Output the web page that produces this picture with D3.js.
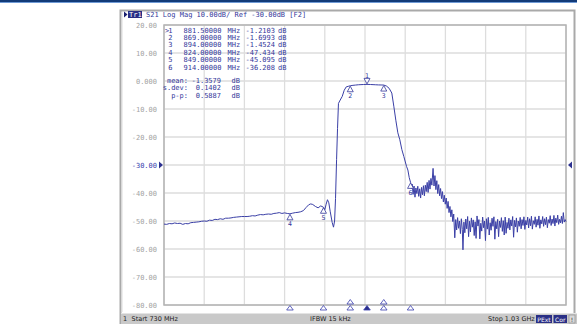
<!DOCTYPE html>
<html><head><meta charset="utf-8">
<script src="https://cdn.jsdelivr.net/npm/d3@7"></script>
<style>body{margin:0;background:#fff}svg{display:block}</style>
</head><body><svg id="c" width="577" height="324"></svg>
<script>
// ---- data ----
const freqMHz = [730,732,734,736,738,740,742,744,746,748,750,752,754,756,758,760,762,764,766,768,770,772,774,776,778,780,782,784,786,788,790,792,794,796,798,800,802,804,806,808,810,812,814,816,818,820,822,824,826,828,830,832,834,836,838,839.5,841,843,845,847,849,850,851,852,853,854,855.5,856.5,857.3,858,858.8,859.5,860.2,861.5,863,864.5,866,867.5,869,871,873,875,877,879,881.5,884,886,888,890,892,894,896,898,900,901.5,903,904.5,906,907.5,909,911,912,913,914,
914.5,915.2,915.9,916.6,917.3,918,918.7,919.4,920.1,920.8,921.5,922.2,922.9,923.6,924.3,925,925.7,926.4,927.1,927.8,928.5,929.2,929.9,930.8,931.5,932.2,932.9,933.6,934.3,935,935.7,936.4,937.1,937.8,938.5,939.2,939.9,940.6,941.3,942,942.7,943.4,944.1,944.8,945.5,946.2,
947,947.7,948.4,949.1,949.8,950.5,951.2,951.9,952.6,953.1,953.8,954.5,955.2,955.9,956.6,957.3,958,958.7,959.4,960.1,960.8,961.5,962.2,962.9,963.6,964.3,965,965.7,966.4,967.1,967.8,968.5,969.2,969.9,970.6,971.3,972,972.7,973.4,974.1,974.8,975.5,976.2,976.9,977.6,978.3,979,979.7,980.4,981.1,981.8,982.5,983.2,983.9,984.6,985.3,986,986.7,987.4,988.1,988.8,989.5,990.2,990.9,991.6,992.3,993,993.7,994.4,995.1,995.8,996.5,997.2,997.9,998.6,999.3,1000,1000.7,1001.4,1002.1,1002.8,1003.5,1004.2,1004.9,1005.6,1006.3,1007,1007.7,1008.4,1009.1,1009.8,1010.5,1011.2,1011.9,1012.6,1013.3,1014,1014.7,1015.4,1016.1,1016.8,1017.5,1018.2,1018.9,1019.6,1020.3,1021,1021.7,1022.4,1023.1,1023.8,1024.5,1025.2,1025.9,1026.6,1027.3,1028,1028.7,1029.4,1030];
const s21dB = [-51.1,-51.2,-50.9,-51.0,-50.7,-50.9,-50.8,-51.2,-50.9,-51.0,-50.6,-50.5,-50.4,-50.3,-50.1,-50.0,-50.1,-49.7,-49.8,-49.4,-49.5,-49.2,-49.4,-49.0,-49.0,-48.9,-48.7,-48.6,-48.5,-48.4,-48.4,-48.4,-48.3,-48.1,-48.2,-47.9,-47.7,-47.8,-47.6,-47.5,-47.6,-47.3,-47.2,-47.0,-47.3,-47.1,-47.3,-47.43,-47.2,-47.0,-46.9,-46.7,-46.3,-45.2,-44.2,-43.9,-44.1,-44.8,-45.3,-44.6,-45.1,-46.0,-44.0,-42.4,-43.5,-46.5,-50.5,-52.2,-50.0,-42.0,-28.0,-17.0,-8.0,-6.8,-5.5,-3.3,-2.1,-1.9,-1.70,-1.55,-1.45,-1.35,-1.30,-1.25,-1.21,-1.25,-1.30,-1.35,-1.40,-1.42,-1.45,-1.8,-2.6,-4.3,-9.0,-14.0,-18.5,-21.0,-24.5,-27.0,-30.5,-31.8,-34.5,-36.2,
-38.5,-36.8,-40.5,-37.5,-41.5,-38.2,-40.2,-37.6,-41.2,-38.5,-41.8,-38.0,-40.6,-37.4,-41.0,-37.2,-39.5,-36.2,-39.8,-35.5,-38.6,-34.8,-37.2,-31.2,-37.5,-33.8,-38.8,-35.6,-40.2,-37.0,-41.0,-38.4,-42.0,-39.5,-43.2,-40.8,-44.0,-41.8,-45.5,-43.0,-47.0,-44.8,-48.5,-46.0,-50.2,-47.5,
-56.0,-49.5,-53.2,-48.8,-52.6,-50.0,-54.5,-49.2,-53.0,-60.3,-50.4,-54.2,-49.3,-52.8,-48.4,-55.6,-50.1,-53.9,-48.9,-52.2,-49.6,-55.2,-50.3,-56.2,-48.2,-51.8,-49.5,-56.4,-50.8,-53.6,-48.6,-52.4,-50.0,-57.0,-49.2,-52.9,-48.7,-55.0,-50.6,-53.3,-49.0,-51.9,-48.5,-56.5,-50.2,-52.8,-49.4,-55.6,-50.0,-52.3,-48.8,-53.7,-49.9,-55.0,-48.6,-54.4,-50.5,-52.6,-49.0,-53.2,-49.6,-51.8,-48.4,-55.8,-49.8,-52.1,-48.9,-54.0,-50.0,-51.9,-48.7,-52.8,-49.5,-51.6,-48.5,-53.0,-49.8,-51.4,-48.6,-52.5,-49.2,-51.7,-48.3,-52.9,-49.9,-51.2,-48.5,-52.2,-49.4,-51.5,-48.2,-52.6,-49.6,-51.0,-48.4,-51.9,-49.2,-51.3,-48.6,-52.4,-49.5,-50.8,-48.1,-51.6,-49.3,-50.9,-48.0,-51.8,-49.0,-50.6,-47.9,-51.2,-49.4,-50.7,-48.3,-50.9,-47.0,-50.4,-49.5,-50.2];

const yTickValues = [20,10,0,-10,-20,-30,-40,-50,-60,-70,-80];
const yTickLabels = ["20.00","10.00","0.000","-10.00","-20.00","-30.00","-40.00","-50.00","-60.00","-70.00","-80.00"];
const xGridValues = [730,760,790,820,850,880,910,940,970,1000,1030];

const markerIds   = ["1","2","3","4","5","6"];
const markerFreqs = [881.5,869,894,824,849,914];
const markerVals  = [-1.2103,-1.6993,-1.4524,-47.434,-45.095,-36.208];
const markerFreqText = ["881.50000","869.00000","894.00000","824.00000","849.00000","914.00000"];
const markerValText  = ["-1.2103","-1.6993","-1.4524","-47.434","-45.095","-36.208"];
const statNames  = ["mean:","s.dev:","p-p:"];
const statValues = ["-1.3579"," 0.1402"," 0.5887"];

// ---- drawing ----
const svg = d3.select("#c");
const NAVY = "#33379a", MONO = "'DejaVu Sans Mono', monospace";
const x = d3.scaleLinear().domain([730,1030]).range([164,566]);
const y = d3.scaleLinear().domain([-80,20]).range([305,25]);

// top stripe
svg.append("rect").attr("x",0).attr("y",0).attr("width",577).attr("height",2).attr("fill","#123a78");
svg.append("line").attr("x1",0).attr("x2",577).attr("y1",2.5).attr("y2",2.5).attr("stroke","#6f9ad6").attr("stroke-width",1);
// instrument frame
svg.append("path").attr("d","M120.5,324 V10.5 H574.5 V324").attr("fill","none").attr("stroke","#a9a9a9").attr("stroke-width",2);
svg.append("line").attr("x1",122).attr("x2",122).attr("y1",12).attr("y2",312).attr("stroke","#dcdcdc");

// grid
const g = svg.append("g");
g.selectAll(".hg").data(yTickValues).join("line")
  .attr("x1",x(730)).attr("x2",x(1030)).attr("y1",d=>y(d)).attr("y2",d=>y(d))
  .attr("stroke","#dddddd").attr("stroke-width",1.3);
g.selectAll(".vg").data(xGridValues).join("line")
  .attr("y1",y(20)).attr("y2",y(-80)).attr("x1",d=>x(d)).attr("x2",d=>x(d))
  .attr("stroke","#dddddd").attr("stroke-width",1.3);
g.append("rect").attr("x",x(730)).attr("y",y(20)).attr("width",x(1030)-x(730)).attr("height",y(-80)-y(20))
  .attr("fill","none").attr("stroke","#b4b4b4").attr("stroke-width",1.5);

// y labels via axis
const yAxis = d3.axisLeft(y).tickValues(yTickValues).tickSize(0).tickPadding(0)
  .tickFormat((d,i)=>yTickLabels[i]);
const ya = svg.append("g").attr("transform","translate(157,0)").call(yAxis);
ya.select(".domain").remove();
ya.selectAll("text").attr("font-family",MONO).attr("font-size",7)
  .attr("fill",d=>d===-30?"#3a3fae":"#a3a3a3");
// reference triangles
svg.append("path").attr("d",`M159,${y(-30)-3.5} L163,${y(-30)} L159,${y(-30)+3.5}Z`).attr("fill","#2d3290");
svg.append("path").attr("d",`M572,${y(-30)-3.5} L568,${y(-30)} L572,${y(-30)+3.5}Z`).attr("fill","#2d3290");

// title
svg.append("path").attr("d","M124,11.5 L127.5,14.5 L124,17.5Z").attr("fill","#1b2070");
svg.append("rect").attr("x",128).attr("y",11).attr("width",14).attr("height",7).attr("fill","#2a2f86");
svg.append("text").attr("x",129).attr("y",17).attr("font-family",MONO).attr("font-size",7).attr("fill","#fff").text("Tr1");
svg.append("text").attr("x",146).attr("y",17).attr("font-family",MONO).attr("font-size",7).attr("fill",NAVY)
  .attr("xml:space","preserve").text("S21 Log Mag 10.00dB/ Ref -30.00dB [F2]");

// trace
const pts = freqMHz.map((f,i)=>[f,s21dB[i]]);
svg.append("path").datum(pts).attr("fill","none").attr("stroke","#3a3fa6").attr("stroke-width",1)
  .attr("stroke-linejoin","round")
  .attr("d",d3.line().x(d=>x(d[0])).y(d=>y(d[1])));

// marker table
const rows = svg.append("g").attr("font-family",MONO).attr("font-size",7).attr("fill",NAVY);
markerIds.forEach((id,i)=>{
  const by = 32.5 + i*7.4;
  if(i===0) rows.append("text").attr("x",165).attr("y",by).text(">");
  rows.append("text").attr("x",172.5).attr("y",by).attr("text-anchor","end").text(id);
  rows.append("text").attr("x",183.5).attr("y",by).text(markerFreqText[i]);
  rows.append("text").attr("x",227.5).attr("y",by).text("MHz");
  rows.append("text").attr("x",245.5).attr("y",by).text(markerValText[i]);
  rows.append("text").attr("x",278).attr("y",by).text("dB");
});
statNames.forEach((s,i)=>{
  const by = 83 + i*7.3;
  rows.append("text").attr("x",188).attr("y",by).attr("text-anchor","end").text(s);
  rows.append("text").attr("x",191.5).attr("y",by).attr("xml:space","preserve").text(statValues[i]);
  rows.append("text").attr("x",231.5).attr("y",by).text("dB");
});

// marker glyphs on trace
const mg = svg.append("g");
markerIds.forEach((id,i)=>{
  const mx = x(markerFreqs[i]), my = y(markerVals[i]);
  if(i===0){
    mg.append("path").attr("d",`M${mx-3},${my-6} L${mx+3},${my-6} L${mx},${my-0.5}Z`)
      .attr("fill","#fff").attr("stroke",NAVY).attr("stroke-width",0.8);
    mg.append("text").attr("x",mx).attr("y",my-6.5).attr("text-anchor","middle")
      .attr("font-family",MONO).attr("font-size",6.5).attr("fill",NAVY).text(id);
  } else {
    mg.append("path").attr("d",`M${mx},${my+0.5} L${mx+3},${my+6} L${mx-3},${my+6}Z`)
      .attr("fill","#fff").attr("stroke",NAVY).attr("stroke-width",0.8);
    mg.append("text").attr("x",mx).attr("y",my+12.5).attr("text-anchor","middle")
      .attr("font-family",MONO).attr("font-size",6.5).attr("fill",NAVY).text(id);
  }
});
// bottom marker indicators
markerIds.forEach((id,i)=>{
  const mx = x(markerFreqs[i]);
  const tri = (ty)=>`M${mx},${ty} L${mx+3.3},${ty+4.5} L${mx-3.3},${ty+4.5}Z`;
  mg.append("path").attr("d",tri(305.5)).attr("fill",i===0?"#2a2f86":"#fff")
    .attr("stroke","#3a3fae").attr("stroke-width",0.8);
  if(i===1||i===2) mg.append("path").attr("d",tri(299.5)).attr("fill","#fff")
    .attr("stroke","#3a3fae").attr("stroke-width",0.8);
});

// status bar
svg.append("rect").attr("x",121).attr("y",313).attr("width",456).attr("height",11).attr("fill","#c9c9c9");
svg.append("line").attr("x1",121).attr("x2",577).attr("y1",313.5).attr("y2",313.5).attr("stroke","#e4e4e4");
const SANS = "'DejaVu Sans', sans-serif";
svg.append("text").attr("x",123).attr("y",321).attr("font-family",SANS).attr("font-size",6.5).attr("fill","#222").text("1");
svg.append("text").attr("x",131.5).attr("y",321).attr("font-family",SANS).attr("font-size",6.5).attr("fill","#222").text("Start 730 MHz");
svg.append("text").attr("x",310).attr("y",321).attr("font-family",SANS).attr("font-size",6.5).attr("fill","#222").text("IFBW 15 kHz");
svg.append("text").attr("x",488).attr("y",321).attr("font-family",SANS).attr("font-size",6.5).attr("fill","#222").text("Stop 1.03 GHz");
svg.append("rect").attr("x",536).attr("y",315).attr("width",16).attr("height",8).attr("fill","#2a2f86");
svg.append("text").attr("x",544).attr("y",321.5).attr("text-anchor","middle").attr("font-family",SANS).attr("font-size",6).attr("fill","#fff").text("PExt");
svg.append("rect").attr("x",553.5).attr("y",315).attr("width",13.5).attr("height",8).attr("fill","#2a2f86");
svg.append("text").attr("x",560.2).attr("y",321.5).attr("text-anchor","middle").attr("font-family",SANS).attr("font-size",6).attr("fill","#fff").text("Cor");
svg.append("rect").attr("x",569).attr("y",315).attr("width",6).attr("height",8).attr("fill","#d8d8d8").attr("stroke","#888").attr("stroke-width",0.6);
svg.append("text").attr("x",572).attr("y",321.5).attr("text-anchor","middle").attr("font-family",SANS).attr("font-size",6).attr("fill","#222").text("!");
</script></body></html>
